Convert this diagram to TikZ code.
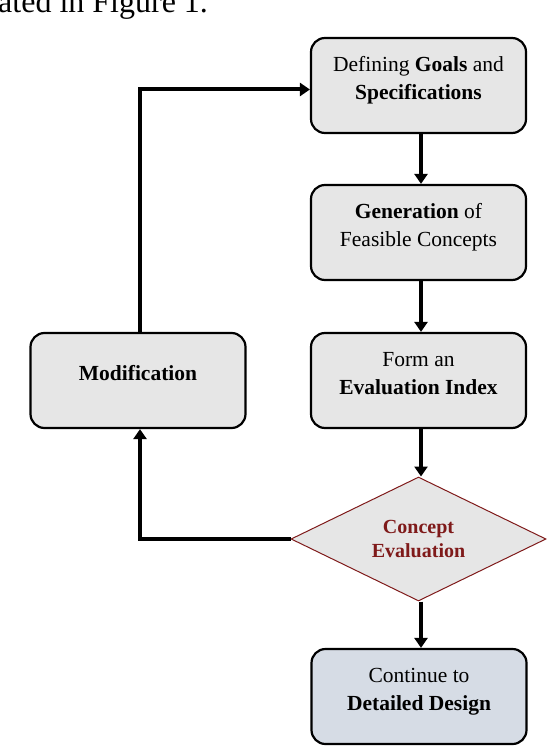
\documentclass[tikz,border=0pt]{standalone}
\usepackage{fontspec}
\setmainfont{Liberation Serif}
\usetikzlibrary{shapes.geometric,arrows.meta}
\definecolor{boxgray}{HTML}{E6E6E6}
\definecolor{boxblue}{HTML}{D6DCE5}
\definecolor{darkred}{HTML}{7F1A1A}
\newcommand\boxtext[1]{\raisebox{6pt}[\height][\depth]{\begin{tabular}{@{}c@{}}#1\end{tabular}}}
\begin{document}
\begin{tikzpicture}[x=1pt,y=-1pt,
  flowbox/.style={draw=black,line width=2.2pt,rounded corners=14pt,fill=boxgray,minimum width=215pt,minimum height=95pt,font=\fontsize{21.5}{28}\selectfont,inner sep=0pt},
  decbox/.style={draw=darkred,line width=1pt,diamond,aspect=2.05,fill=boxgray,align=center,font=\fontsize{20}{24}\selectfont\bfseries,text=darkred,minimum width=255pt,minimum height=124pt,inner sep=0pt},
  conn/.style={line width=4pt,-{Triangle[length=10pt,width=13pt]}}]
\useasboundingbox (0,0) rectangle (548,746);
\begin{scope}
\clip (0,0) rectangle (548,746);
\node[anchor=base west,inner sep=0pt,font=\fontsize{32}{32}\selectfont] (top) at (-2,13) {ated in Figure 1.};
\end{scope}
\node[flowbox] (goals) at (418.5,85.5) {\boxtext{Defining \textbf{Goals} and\\ \textbf{Specifications}}};
\node[flowbox] (gen) at (418.5,232.5) {\boxtext{\textbf{Generation} of\\ Feasible Concepts}};
\node[flowbox] (form) at (418.5,380.5) {\boxtext{Form an\\ \textbf{Evaluation Index}}};
\node[flowbox] (mod) at (138,380.5) {\boxtext{\textbf{Modification}}};
\node[decbox] (eval) at (418.5,539) {Concept\\ Evaluation};
\node[flowbox,fill=boxblue] (cont) at (419,696.5) {\boxtext{Continue to\\ \textbf{Detailed Design}}};
\draw[conn] (goals.south -| 421,0) -- (gen.north -| 421,0);
\draw[conn] (gen.south -| 421,0) -- (form.north -| 421,0);
\draw[conn] (form.south -| 421,0) -- (eval.north -| 421,0);
\draw[conn] (eval.south -| 421,0) -- (cont.north -| 421,0);
\coordinate (c1) at (140,539);
\draw[conn] (eval.west) -- (c1) -- (mod.south -| c1);
\coordinate (c2) at (140,89.5);
\draw[conn] (mod.north -| c2) -- (c2) -- (goals.west |- c2);
\end{tikzpicture}
\end{document}
